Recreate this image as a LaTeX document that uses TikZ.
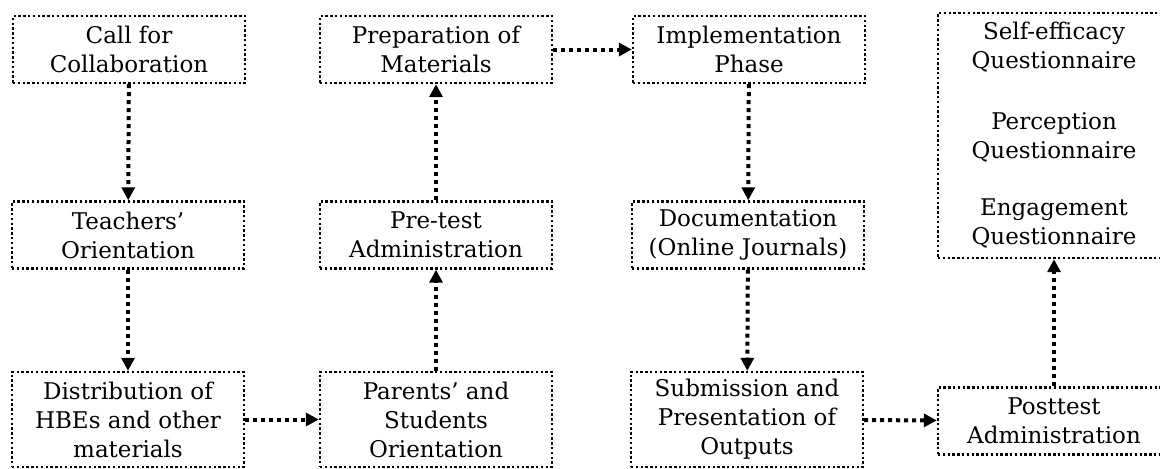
\documentclass[tikz,border=0pt]{standalone}
\usepackage{fontspec}
\setmainfont{DejaVu Serif}
\usetikzlibrary{arrows.meta}

\begin{document}
\begin{tikzpicture}[
        x=0.5pt, y=-0.5pt,
        stage/.style={draw, line width=1.2pt, dash pattern=on 1.2pt off 1.2pt, minimum width=116pt, minimum height=33.5pt, align=center, inner sep=2pt},
        tall/.style={minimum height=47.5pt},
        link/.style={-{Triangle[length=6.5pt, width=6.5pt]}, line width=2pt, dash pattern=on 2pt off 2pt},
        every node/.style={font=\fontsize{11.5}{14.5}\selectfont}
    ]
        \useasboundingbox (0,0) rectangle (1160,468);

        % Nodes
        \node[stage] (call) at (129, 49.5) {Call for\\Collaboration};
        \node[stage] (teach) at (128, 235) {Teachers'\\Orientation};
        \node[stage, tall] (distr) at (128, 419.5) {Distribution of\\HBEs and other\\materials};

        \node[stage] (prep) at (436, 49.5) {Preparation of\\Materials};
        \node[stage] (pretest) at (436, 235) {Pre-test\\Administration};
        \node[stage, tall] (parents) at (436, 419.5) {Parents' and\\Students\\Orientation};

        \node[stage] (impl) at (749, 49.5) {Implementation\\Phase};
        \node[stage] (docu) at (748, 235) {Documentation\\(Online Journals)};
        \node[stage, tall] (subm) at (747, 419.5) {Submission and\\Presentation of\\Outputs};

        \node[stage, minimum height=122.5pt] (quest) at (1054, 135.5) {Self-efficacy\\Questionnaire\\[16pt]Perception\\Questionnaire\\[14pt]Engagement\\Questionnaire};
        \node[stage] (posttest) at (1054, 421) {Posttest\\Administration};

        % Edges
        \draw[link] (call) -- (teach);
        \draw[link] (teach) -- (distr);
        \draw[link] (distr) -- (parents);
        \draw[link] (parents) -- (pretest);
        \draw[link] (pretest) -- (prep);
        \draw[link] (prep) -- (impl);
        \draw[link] (impl) -- (docu);
        \draw[link] (docu) -- (subm);
        \draw[link] (subm) -- (posttest);
        \draw[link] (posttest) -- (quest);

    \end{tikzpicture}
\end{document}
